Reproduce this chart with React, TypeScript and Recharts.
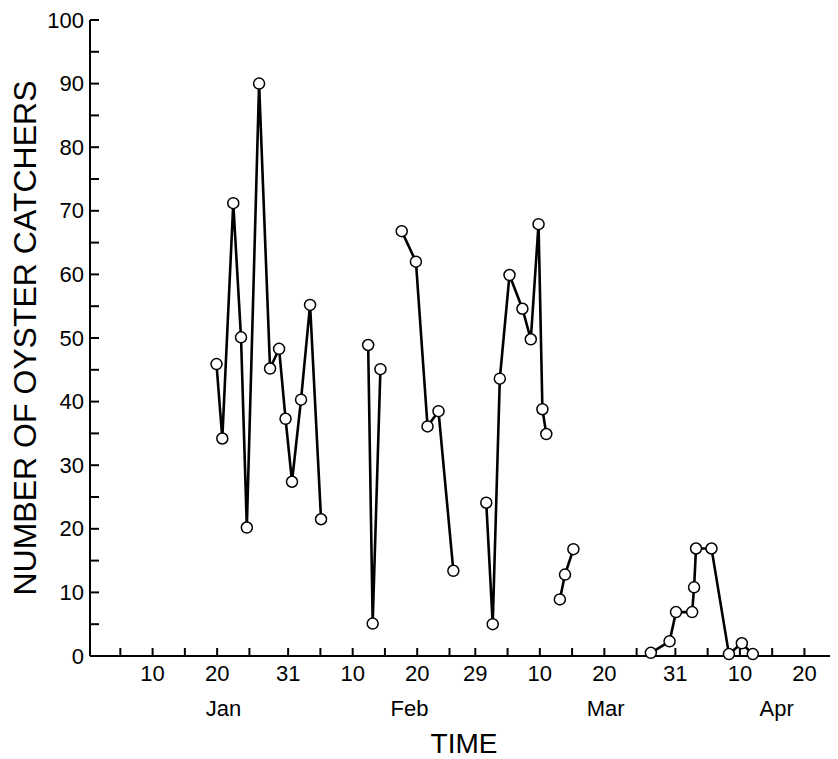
import React from "react";
import { LineChart, Line, XAxis, YAxis } from "recharts";

// Day of year (Jan 1 = 1, leap year) and counts, per connected run
const seg1Days = [19.9, 20.8, 22.5, 23.7, 24.6, 26.5, 28.2, 29.6, 30.6, 31.6, 33.0, 34.4, 36.1];
const seg1Counts = [45.9, 34.2, 71.2, 50.1, 20.2, 90.0, 45.2, 48.3, 37.3, 27.4, 40.3, 55.2, 21.5];

const seg2Days = [43.4, 44.1, 45.3];
const seg2Counts = [48.9, 5.1, 45.1];

const seg3Days = [48.6, 50.8, 52.6, 54.3, 56.6];
const seg3Counts = [66.8, 62.0, 36.1, 38.5, 13.4];

const seg4Days = [61.7, 62.7, 63.8, 65.3, 67.3, 68.6, 69.8, 70.4, 71.0];
const seg4Counts = [24.1, 5.0, 43.6, 59.9, 54.6, 49.8, 67.9, 38.8, 34.9];

const seg5Days = [73.1, 73.9, 75.2];
const seg5Counts = [8.9, 12.8, 16.8];

const seg6Days = [87.2, 90.1, 91.1, 93.6, 93.9, 94.2, 96.6, 99.3, 101.3, 103.0];
const seg6Counts = [0.5, 2.3, 6.9, 6.9, 10.8, 16.9, 16.9, 0.3, 2.0, 0.3];

// x-axis ticks (day of year) and their labels
const xTickDays = [5, 10, 15, 20, 25, 31, 36, 41, 46, 51, 56, 60, 65, 70, 75, 80, 85, 91, 96, 101, 106, 111, 116];
const xTickLabels: Record<number, string> = {
  10: "10", 20: "20", 31: "31", 41: "10", 51: "20", 60: "29",
  70: "10", 80: "20", 91: "31", 101: "10", 111: "20",
};
const monthDays = [21, 49.8, 80.2, 106.7];
const monthNames = ["Jan", "Feb", "Mar", "Apr"];

const yTicks = [0, 5, 10, 15, 20, 25, 30, 35, 40, 45, 50, 55, 60, 65, 70, 75, 80, 85, 90, 95, 100];
const yLabelEvery = 10;

const FONT = "'Liberation Sans', Arial, Helvetica, sans-serif";

const build = (days: number[], counts: number[]) =>
  days.map((d, i) => ({ day: d, count: counts[i] }));

const segments = [
  build(seg1Days, seg1Counts),
  build(seg2Days, seg2Counts),
  build(seg3Days, seg3Counts),
  build(seg4Days, seg4Counts),
  build(seg5Days, seg5Counts),
  build(seg6Days, seg6Counts),
];

const XTick = (props: any) => {
  const { x, y, payload } = props;
  const v = payload.value;
  const mi = monthDays.indexOf(v);
  if (mi >= 0) {
    return (
      <text x={x} y={y + 52} textAnchor="middle" dominantBaseline="central"
        fontSize={22} fontFamily={FONT} fill="#000">
        {monthNames[mi]}
      </text>
    );
  }
  const label = xTickLabels[v];
  return (
    <g>
      <line x1={x} y1={y} x2={x} y2={y - 8} stroke="#000" strokeWidth={2} />
      {label ? (
        <text x={x} y={y + 17} textAnchor="middle" dominantBaseline="central"
          fontSize={22} fontFamily={FONT} fill="#000">
          {label}
        </text>
      ) : null}
    </g>
  );
};

const YTick = (props: any) => {
  const { x, y, payload } = props;
  const v = payload.value;
  return (
    <g>
      <line x1={x} y1={y} x2={x + 9} y2={y} stroke="#000" strokeWidth={2} />
      {v % yLabelEvery === 0 ? (
        <text x={x - 6} y={y} textAnchor="end" dominantBaseline="central"
          fontSize={22} fontFamily={FONT} fill="#000">
          {v}
        </text>
      ) : null}
    </g>
  );
};

const YTitle = (props: any) => {
  const vb = props.viewBox || { x: 0, y: 0, width: 0, height: 0 };
  const cx = vb.x + 17;
  const cy = vb.y + vb.height / 2;
  return (
    <text x={cx} y={cy} textAnchor="middle" dominantBaseline="central"
      transform={`rotate(-90, ${cx}, ${cy})`} fontSize={32} fontFamily={FONT} fill="#000">
      NUMBER OF OYSTER CATCHERS
    </text>
  );
};

const XTitle = (props: any) => {
  const vb = props.viewBox || { x: 0, y: 0, width: 0, height: 0 };
  const cx = vb.x + vb.width / 2;
  const cy = vb.y + 87;
  return (
    <text x={cx} y={cy} textAnchor="middle" dominantBaseline="central"
      fontSize={28} fontFamily={FONT} fill="#000">
      TIME
    </text>
  );
};

export default function App() {
  return (
    <div style={{ width: 830, height: 751, background: "#fff", fontFamily: FONT }}>
      <LineChart width={830} height={751} margin={{ top: 12, right: 0, bottom: 0, left: 0 }}>
        <XAxis
          dataKey="day"
          type="number"
          domain={[0.3, 116.2]}
          ticks={[...xTickDays, ...monthDays].sort((a, b) => a - b)}
          interval={0}
          height={103}
          tickSize={0}
          tickMargin={0}
          tickLine={false}
          axisLine={{ stroke: "#000", strokeWidth: 2 }}
          tick={<XTick />}
          allowDataOverflow
          label={<XTitle />}
        />
        <YAxis
          dataKey="count"
          type="number"
          domain={[0, 100]}
          ticks={yTicks}
          interval={0}
          width={82}
          tickSize={0}
          tickMargin={0}
          tickLine={false}
          axisLine={{ stroke: "#000", strokeWidth: 2 }}
          tick={<YTick />}
          label={<YTitle />}
        />
        {segments.map((seg, i) => (
          <Line
            key={i}
            data={seg}
            dataKey="count"
            type="linear"
            stroke="#000"
            strokeWidth={2.6}
            dot={{ r: 5.5, fill: "#fff", stroke: "#000", strokeWidth: 1.5 }}
            activeDot={false}
            isAnimationActive={false}
          />
        ))}
      </LineChart>
    </div>
  );
}
